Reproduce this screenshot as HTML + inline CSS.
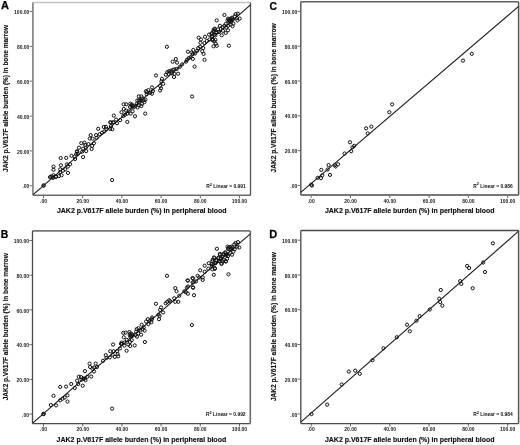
<!DOCTYPE html><html><head><meta charset="utf-8"><style>html,body{margin:0;padding:0;background:#fff;}svg{display:block;}text{font-family:"Liberation Sans",Arial,sans-serif;}</style></head><body>
<svg width="520" height="445" viewBox="0 0 520 445">
<rect width="520" height="445" fill="#fff"/>
<g><line x1="29.7" y1="185.8" x2="32.9" y2="185.8" stroke="#444" stroke-width="0.8"/><text x="29.4" y="188.4" font-size="5" font-weight="bold" text-anchor="end" fill="#222">.00</text><line x1="43.5" y1="195.3" x2="43.5" y2="198.3" stroke="#444" stroke-width="0.8"/><text x="43.5" y="203.1" font-size="5" font-weight="bold" text-anchor="middle" fill="#222">.00</text><line x1="29.7" y1="150.9" x2="32.9" y2="150.9" stroke="#444" stroke-width="0.8"/><text x="29.4" y="153.5" font-size="5" font-weight="bold" text-anchor="end" fill="#222">20.00</text><line x1="82.7" y1="195.3" x2="82.7" y2="198.3" stroke="#444" stroke-width="0.8"/><text x="82.7" y="203.1" font-size="5" font-weight="bold" text-anchor="middle" fill="#222">20.00</text><line x1="29.7" y1="116.1" x2="32.9" y2="116.1" stroke="#444" stroke-width="0.8"/><text x="29.4" y="118.7" font-size="5" font-weight="bold" text-anchor="end" fill="#222">40.00</text><line x1="121.9" y1="195.3" x2="121.9" y2="198.3" stroke="#444" stroke-width="0.8"/><text x="121.9" y="203.1" font-size="5" font-weight="bold" text-anchor="middle" fill="#222">40.00</text><line x1="29.7" y1="81.2" x2="32.9" y2="81.2" stroke="#444" stroke-width="0.8"/><text x="29.4" y="83.8" font-size="5" font-weight="bold" text-anchor="end" fill="#222">60.00</text><line x1="161.1" y1="195.3" x2="161.1" y2="198.3" stroke="#444" stroke-width="0.8"/><text x="161.1" y="203.1" font-size="5" font-weight="bold" text-anchor="middle" fill="#222">60.00</text><line x1="29.7" y1="46.4" x2="32.9" y2="46.4" stroke="#444" stroke-width="0.8"/><text x="29.4" y="49.0" font-size="5" font-weight="bold" text-anchor="end" fill="#222">80.00</text><line x1="200.3" y1="195.3" x2="200.3" y2="198.3" stroke="#444" stroke-width="0.8"/><text x="200.3" y="203.1" font-size="5" font-weight="bold" text-anchor="middle" fill="#222">80.00</text><line x1="29.7" y1="11.5" x2="32.9" y2="11.5" stroke="#444" stroke-width="0.8"/><text x="29.4" y="14.1" font-size="5" font-weight="bold" text-anchor="end" fill="#222">100.00</text><line x1="239.5" y1="195.3" x2="239.5" y2="198.3" stroke="#444" stroke-width="0.8"/><text x="239.5" y="203.1" font-size="5" font-weight="bold" text-anchor="middle" fill="#222">100.00</text><line x1="32.9" y1="2.5" x2="250.5" y2="2.5" stroke="#c4c4c4" stroke-width="1.4"/><line x1="32.9" y1="195.3" x2="250.5" y2="195.3" stroke="#6a6a6a" stroke-width="1.6"/><line x1="32.9" y1="2.5" x2="32.9" y2="195.3" stroke="#8a8a8a" stroke-width="1.8"/><line x1="250.5" y1="2.5" x2="250.5" y2="195.3" stroke="#555" stroke-width="1.3"/><line x1="33.2" y1="194.6" x2="250.5" y2="4.9" stroke="#1a1a1a" stroke-width="1.1"/><g fill="none" stroke="#111" stroke-width="1.0"><circle cx="60.7" cy="158.1" r="1.6"/><circle cx="66.2" cy="157.9" r="1.6"/><circle cx="71.5" cy="155.8" r="1.6"/><circle cx="74.6" cy="156.7" r="1.6"/><circle cx="75.1" cy="159.0" r="1.6"/><circle cx="76.9" cy="151.8" r="1.6"/><circle cx="77.8" cy="153.6" r="1.6"/><circle cx="53.5" cy="166.6" r="1.6"/><circle cx="53.5" cy="169.8" r="1.6"/><circle cx="60.9" cy="165.3" r="1.6"/><circle cx="60.2" cy="169.3" r="1.6"/><circle cx="67.0" cy="164.4" r="1.6"/><circle cx="70.1" cy="164.2" r="1.6"/><circle cx="67.9" cy="166.6" r="1.6"/><circle cx="65.2" cy="169.3" r="1.6"/><circle cx="62.9" cy="170.7" r="1.6"/><circle cx="68.0" cy="172.9" r="1.6"/><circle cx="61.6" cy="175.3" r="1.6"/><circle cx="58.9" cy="176.1" r="1.6"/><circle cx="56.2" cy="176.5" r="1.6"/><circle cx="53.5" cy="175.2" r="1.6"/><circle cx="50.8" cy="176.5" r="1.6"/><circle cx="53.0" cy="177.9" r="1.6"/><circle cx="60.2" cy="172.0" r="1.6"/><circle cx="50.0" cy="177.2" r="1.6"/><circle cx="52.6" cy="176.9" r="1.6"/><circle cx="55.8" cy="176.9" r="1.6"/><circle cx="83.1" cy="157.1" r="1.6"/><circle cx="77.2" cy="151.3" r="1.6"/><circle cx="76.3" cy="154.0" r="1.6"/><circle cx="79.0" cy="147.7" r="1.6"/><circle cx="81.3" cy="143.2" r="1.6"/><circle cx="84.4" cy="142.7" r="1.6"/><circle cx="83.1" cy="148.6" r="1.6"/><circle cx="85.8" cy="147.7" r="1.6"/><circle cx="85.3" cy="145.0" r="1.6"/><circle cx="82.2" cy="151.7" r="1.6"/><circle cx="86.2" cy="151.1" r="1.6"/><circle cx="88.5" cy="144.1" r="1.6"/><circle cx="90.7" cy="135.1" r="1.6"/><circle cx="89.8" cy="138.5" r="1.6"/><circle cx="92.5" cy="138.7" r="1.6"/><circle cx="92.1" cy="145.9" r="1.6"/><circle cx="91.6" cy="149.0" r="1.6"/><circle cx="93.9" cy="143.2" r="1.6"/><circle cx="96.1" cy="135.1" r="1.6"/><circle cx="96.6" cy="137.8" r="1.6"/><circle cx="99.7" cy="134.2" r="1.6"/><circle cx="102.0" cy="132.8" r="1.6"/><circle cx="104.2" cy="131.5" r="1.6"/><circle cx="98.2" cy="128.8" r="1.6"/><circle cx="103.8" cy="127.0" r="1.6"/><circle cx="106.0" cy="126.8" r="1.6"/><circle cx="106.5" cy="129.2" r="1.6"/><circle cx="110.1" cy="128.8" r="1.6"/><circle cx="112.3" cy="129.2" r="1.6"/><circle cx="111.0" cy="122.5" r="1.6"/><circle cx="113.2" cy="122.5" r="1.6"/><circle cx="111.0" cy="126.1" r="1.6"/><circle cx="113.8" cy="115.6" r="1.6"/><circle cx="110.2" cy="122.3" r="1.6"/><circle cx="113.4" cy="122.3" r="1.6"/><circle cx="117.0" cy="123.2" r="1.6"/><circle cx="116.1" cy="119.6" r="1.6"/><circle cx="120.1" cy="120.1" r="1.6"/><circle cx="127.3" cy="121.9" r="1.6"/><circle cx="145.8" cy="91.3" r="1.6"/><circle cx="175.8" cy="59.0" r="1.6"/><circle cx="172.7" cy="61.7" r="1.6"/><circle cx="177.0" cy="62.6" r="1.6"/><circle cx="179.9" cy="66.7" r="1.6"/><circle cx="182.1" cy="64.4" r="1.6"/><circle cx="156.0" cy="75.5" r="1.6"/><circle cx="167.3" cy="72.1" r="1.6"/><circle cx="169.1" cy="71.2" r="1.6"/><circle cx="170.9" cy="70.7" r="1.6"/><circle cx="173.1" cy="69.8" r="1.6"/><circle cx="174.5" cy="69.4" r="1.6"/><circle cx="176.7" cy="68.9" r="1.6"/><circle cx="165.9" cy="74.8" r="1.6"/><circle cx="168.6" cy="73.9" r="1.6"/><circle cx="171.8" cy="73.4" r="1.6"/><circle cx="174.5" cy="73.9" r="1.6"/><circle cx="178.1" cy="73.7" r="1.6"/><circle cx="174.0" cy="77.0" r="1.6"/><circle cx="161.9" cy="78.8" r="1.6"/><circle cx="161.4" cy="81.5" r="1.6"/><circle cx="163.2" cy="83.8" r="1.6"/><circle cx="160.1" cy="86.0" r="1.6"/><circle cx="161.0" cy="88.3" r="1.6"/><circle cx="160.1" cy="90.5" r="1.6"/><circle cx="152.0" cy="87.4" r="1.6"/><circle cx="148.4" cy="90.1" r="1.6"/><circle cx="147.0" cy="91.9" r="1.6"/><circle cx="150.2" cy="92.8" r="1.6"/><circle cx="152.9" cy="91.0" r="1.6"/><circle cx="152.0" cy="93.7" r="1.6"/><circle cx="204.5" cy="59.8" r="1.6"/><circle cx="187.9" cy="51.7" r="1.6"/><circle cx="191.5" cy="52.6" r="1.6"/><circle cx="193.3" cy="49.9" r="1.6"/><circle cx="192.8" cy="53.9" r="1.6"/><circle cx="195.1" cy="53.5" r="1.6"/><circle cx="190.6" cy="57.1" r="1.6"/><circle cx="188.8" cy="58.0" r="1.6"/><circle cx="187.0" cy="59.8" r="1.6"/><circle cx="192.8" cy="58.9" r="1.6"/><circle cx="186.1" cy="61.6" r="1.6"/><circle cx="198.2" cy="48.1" r="1.6"/><circle cx="200.0" cy="46.7" r="1.6"/><circle cx="197.3" cy="50.8" r="1.6"/><circle cx="203.2" cy="48.1" r="1.6"/><circle cx="202.3" cy="51.2" r="1.6"/><circle cx="203.6" cy="53.9" r="1.6"/><circle cx="200.5" cy="42.7" r="1.6"/><circle cx="198.7" cy="37.7" r="1.6"/><circle cx="200.9" cy="39.5" r="1.6"/><circle cx="205.0" cy="36.8" r="1.6"/><circle cx="204.5" cy="43.1" r="1.6"/><circle cx="206.8" cy="40.9" r="1.6"/><circle cx="209.0" cy="34.6" r="1.6"/><circle cx="209.5" cy="39.5" r="1.6"/><circle cx="212.2" cy="36.4" r="1.6"/><circle cx="212.6" cy="40.0" r="1.6"/><circle cx="214.0" cy="41.3" r="1.6"/><circle cx="213.5" cy="46.3" r="1.6"/><circle cx="215.8" cy="43.6" r="1.6"/><circle cx="216.7" cy="45.8" r="1.6"/><circle cx="213.5" cy="30.5" r="1.6"/><circle cx="214.9" cy="28.7" r="1.6"/><circle cx="211.7" cy="33.2" r="1.6"/><circle cx="215.8" cy="32.8" r="1.6"/><circle cx="224.4" cy="15.0" r="1.6"/><circle cx="216.7" cy="20.4" r="1.6"/><circle cx="228.0" cy="18.6" r="1.6"/><circle cx="229.3" cy="19.5" r="1.6"/><circle cx="230.7" cy="18.6" r="1.6"/><circle cx="232.0" cy="17.7" r="1.6"/><circle cx="230.2" cy="20.9" r="1.6"/><circle cx="228.9" cy="21.3" r="1.6"/><circle cx="231.6" cy="20.4" r="1.6"/><circle cx="232.9" cy="19.5" r="1.6"/><circle cx="227.5" cy="20.4" r="1.6"/><circle cx="230.7" cy="22.2" r="1.6"/><circle cx="234.7" cy="16.4" r="1.6"/><circle cx="235.6" cy="14.1" r="1.6"/><circle cx="237.9" cy="13.7" r="1.6"/><circle cx="237.0" cy="18.2" r="1.6"/><circle cx="239.7" cy="18.6" r="1.6"/><circle cx="237.4" cy="20.4" r="1.6"/><circle cx="233.4" cy="23.6" r="1.6"/><circle cx="232.5" cy="26.3" r="1.6"/><circle cx="230.7" cy="24.5" r="1.6"/><circle cx="228.0" cy="25.8" r="1.6"/><circle cx="225.7" cy="24.0" r="1.6"/><circle cx="224.4" cy="25.8" r="1.6"/><circle cx="219.9" cy="25.8" r="1.6"/><circle cx="222.6" cy="27.2" r="1.6"/><circle cx="226.2" cy="27.6" r="1.6"/><circle cx="228.0" cy="30.3" r="1.6"/><circle cx="225.7" cy="33.0" r="1.6"/><circle cx="221.7" cy="35.3" r="1.6"/><circle cx="223.0" cy="30.8" r="1.6"/><circle cx="220.8" cy="29.0" r="1.6"/><circle cx="218.1" cy="29.4" r="1.6"/><circle cx="214.0" cy="29.4" r="1.6"/><circle cx="213.6" cy="31.7" r="1.6"/><circle cx="216.3" cy="32.1" r="1.6"/><circle cx="219.0" cy="32.1" r="1.6"/><circle cx="211.8" cy="34.4" r="1.6"/><circle cx="215.4" cy="35.3" r="1.6"/><circle cx="211.8" cy="36.6" r="1.6"/><circle cx="215.4" cy="39.8" r="1.6"/><circle cx="212.7" cy="39.8" r="1.6"/><circle cx="166.9" cy="46.8" r="1.6"/><circle cx="228.9" cy="45.7" r="1.6"/><circle cx="192.1" cy="96.5" r="1.6"/><circle cx="112.1" cy="180.1" r="1.6"/><circle cx="194.6" cy="66.6" r="1.6"/><circle cx="123.6" cy="104.3" r="1.6"/><circle cx="126.2" cy="104.3" r="1.6"/><circle cx="130.3" cy="103.7" r="1.6"/><circle cx="131.2" cy="105.5" r="1.6"/><circle cx="130.0" cy="106.9" r="1.6"/><circle cx="132.6" cy="106.0" r="1.6"/><circle cx="133.8" cy="107.2" r="1.6"/><circle cx="132.0" cy="104.6" r="1.6"/><circle cx="135.5" cy="106.0" r="1.6"/><circle cx="137.6" cy="107.5" r="1.6"/><circle cx="136.7" cy="103.7" r="1.6"/><circle cx="138.8" cy="105.2" r="1.6"/><circle cx="139.3" cy="102.5" r="1.6"/><circle cx="141.4" cy="106.0" r="1.6"/><circle cx="142.0" cy="103.7" r="1.6"/><circle cx="137.3" cy="100.5" r="1.6"/><circle cx="139.1" cy="100.2" r="1.6"/><circle cx="138.8" cy="96.4" r="1.6"/><circle cx="141.4" cy="96.4" r="1.6"/><circle cx="140.8" cy="100.2" r="1.6"/><circle cx="143.7" cy="100.2" r="1.6"/><circle cx="144.3" cy="102.2" r="1.6"/><circle cx="142.6" cy="98.4" r="1.6"/><circle cx="145.5" cy="99.6" r="1.6"/><circle cx="146.7" cy="94.3" r="1.6"/><circle cx="123.8" cy="109.0" r="1.6"/><circle cx="121.5" cy="112.2" r="1.6"/><circle cx="126.2" cy="110.7" r="1.6"/><circle cx="128.5" cy="111.3" r="1.6"/><circle cx="132.6" cy="111.3" r="1.6"/><circle cx="130.6" cy="113.6" r="1.6"/><circle cx="127.4" cy="113.6" r="1.6"/><circle cx="125.0" cy="114.8" r="1.6"/><circle cx="123.3" cy="116.0" r="1.6"/><circle cx="135.0" cy="116.3" r="1.6"/><circle cx="145.2" cy="113.6" r="1.6"/><circle cx="43.5" cy="185.6" r="1.6"/><circle cx="43.7" cy="185.4" r="1.6"/></g><text x="206.2" y="187.9" font-size="4.9" font-weight="bold" fill="#111" textLength="39.6" lengthAdjust="spacingAndGlyphs">R<tspan font-size="3.8" dy="-2.2">2</tspan><tspan dy="2.2"> Linear = 0.991</tspan></text><text x="141.7" y="213.3" font-size="7" font-weight="bold" text-anchor="middle" fill="#111" stroke="#111" stroke-width="0.15">JAK2 p.V617F allele burden (%) in peripheral blood</text><text x="0" y="0" transform="translate(8.3,98.4) rotate(-90)" font-size="6.7" font-weight="bold" text-anchor="middle" fill="#111" stroke="#111" stroke-width="0.15" textLength="147" lengthAdjust="spacingAndGlyphs">JAK2 p.V617F allele burden (%) in bone marrow</text><text x="0" y="0" transform="translate(1,9.3) scale(1.0,1)" font-size="11" font-weight="bold" fill="#000" stroke="#000" stroke-width="0.25">A</text></g>
<g><line x1="297.6" y1="185.4" x2="300.8" y2="185.4" stroke="#444" stroke-width="0.8"/><text x="297.3" y="188.0" font-size="5" font-weight="bold" text-anchor="end" fill="#222">.00</text><line x1="311.2" y1="195.0" x2="311.2" y2="198.0" stroke="#444" stroke-width="0.8"/><text x="311.2" y="202.8" font-size="5" font-weight="bold" text-anchor="middle" fill="#222">.00</text><line x1="297.6" y1="150.6" x2="300.8" y2="150.6" stroke="#444" stroke-width="0.8"/><text x="297.3" y="153.2" font-size="5" font-weight="bold" text-anchor="end" fill="#222">20.00</text><line x1="350.5" y1="195.0" x2="350.5" y2="198.0" stroke="#444" stroke-width="0.8"/><text x="350.5" y="202.8" font-size="5" font-weight="bold" text-anchor="middle" fill="#222">20.00</text><line x1="297.6" y1="115.8" x2="300.8" y2="115.8" stroke="#444" stroke-width="0.8"/><text x="297.3" y="118.4" font-size="5" font-weight="bold" text-anchor="end" fill="#222">40.00</text><line x1="389.8" y1="195.0" x2="389.8" y2="198.0" stroke="#444" stroke-width="0.8"/><text x="389.8" y="202.8" font-size="5" font-weight="bold" text-anchor="middle" fill="#222">40.00</text><line x1="297.6" y1="81.0" x2="300.8" y2="81.0" stroke="#444" stroke-width="0.8"/><text x="297.3" y="83.6" font-size="5" font-weight="bold" text-anchor="end" fill="#222">60.00</text><line x1="429.1" y1="195.0" x2="429.1" y2="198.0" stroke="#444" stroke-width="0.8"/><text x="429.1" y="202.8" font-size="5" font-weight="bold" text-anchor="middle" fill="#222">60.00</text><line x1="297.6" y1="46.2" x2="300.8" y2="46.2" stroke="#444" stroke-width="0.8"/><text x="297.3" y="48.8" font-size="5" font-weight="bold" text-anchor="end" fill="#222">80.00</text><line x1="468.4" y1="195.0" x2="468.4" y2="198.0" stroke="#444" stroke-width="0.8"/><text x="468.4" y="202.8" font-size="5" font-weight="bold" text-anchor="middle" fill="#222">80.00</text><line x1="297.6" y1="11.4" x2="300.8" y2="11.4" stroke="#444" stroke-width="0.8"/><text x="297.3" y="14.0" font-size="5" font-weight="bold" text-anchor="end" fill="#222">100.00</text><line x1="507.7" y1="195.0" x2="507.7" y2="198.0" stroke="#444" stroke-width="0.8"/><text x="507.7" y="202.8" font-size="5" font-weight="bold" text-anchor="middle" fill="#222">100.00</text><line x1="300.8" y1="1.8" x2="518.6" y2="1.8" stroke="#5e5e5e" stroke-width="1.5"/><line x1="300.8" y1="195.0" x2="518.6" y2="195.0" stroke="#777" stroke-width="1.8"/><line x1="300.8" y1="1.8" x2="300.8" y2="195.0" stroke="#5e5e5e" stroke-width="1.5"/><line x1="518.6" y1="1.8" x2="518.6" y2="195.0" stroke="#555" stroke-width="1.5"/><line x1="300.8" y1="192.4" x2="518.6" y2="6.4" stroke="#1a1a1a" stroke-width="1.1"/><g fill="none" stroke="#111" stroke-width="1.0"><circle cx="311.2" cy="184.7" r="1.6"/><circle cx="312.0" cy="185.5" r="1.6"/><circle cx="317.6" cy="177.8" r="1.6"/><circle cx="321.0" cy="178.2" r="1.6"/><circle cx="322.3" cy="175.3" r="1.6"/><circle cx="321.3" cy="169.9" r="1.6"/><circle cx="327.6" cy="169.5" r="1.6"/><circle cx="328.6" cy="165.1" r="1.6"/><circle cx="330.0" cy="174.9" r="1.6"/><circle cx="334.7" cy="165.2" r="1.6"/><circle cx="335.6" cy="166.5" r="1.6"/><circle cx="338.1" cy="164.3" r="1.6"/><circle cx="344.6" cy="153.5" r="1.6"/><circle cx="350.0" cy="142.3" r="1.6"/><circle cx="351.2" cy="151.2" r="1.6"/><circle cx="352.5" cy="147.3" r="1.6"/><circle cx="354.2" cy="145.8" r="1.6"/><circle cx="366.1" cy="128.3" r="1.6"/><circle cx="371.4" cy="126.6" r="1.6"/><circle cx="367.7" cy="133.4" r="1.6"/><circle cx="389.3" cy="112.2" r="1.6"/><circle cx="392.1" cy="104.4" r="1.6"/><circle cx="463.0" cy="60.6" r="1.6"/><circle cx="471.8" cy="53.8" r="1.6"/></g><text x="473.2" y="187.5" font-size="4.9" font-weight="bold" fill="#111" textLength="39.6" lengthAdjust="spacingAndGlyphs">R<tspan font-size="3.8" dy="-2.2">2</tspan><tspan dy="2.2"> Linear = 0.986</tspan></text><text x="409.7" y="213.0" font-size="7" font-weight="bold" text-anchor="middle" fill="#111" stroke="#111" stroke-width="0.15">JAK2 p.V617F allele burden (%) in peripheral blood</text><text x="0" y="0" transform="translate(276.3,97.9) rotate(-90)" font-size="6.7" font-weight="bold" text-anchor="middle" fill="#111" stroke="#111" stroke-width="0.15" textLength="149" lengthAdjust="spacingAndGlyphs">JAK2 p.V617F allele burden (%) in bone marrow</text><text x="0" y="0" transform="translate(269.6,9.9) scale(0.9,1)" font-size="11.5" font-weight="bold" fill="#000" stroke="#000" stroke-width="0.25">C</text></g>
<g><line x1="29.3" y1="414.1" x2="32.5" y2="414.1" stroke="#444" stroke-width="0.8"/><text x="29.0" y="416.7" font-size="5" font-weight="bold" text-anchor="end" fill="#222">.00</text><line x1="43.5" y1="423.6" x2="43.5" y2="426.6" stroke="#444" stroke-width="0.8"/><text x="43.5" y="431.4" font-size="5" font-weight="bold" text-anchor="middle" fill="#222">.00</text><line x1="29.3" y1="379.4" x2="32.5" y2="379.4" stroke="#444" stroke-width="0.8"/><text x="29.0" y="382.0" font-size="5" font-weight="bold" text-anchor="end" fill="#222">20.00</text><line x1="82.7" y1="423.6" x2="82.7" y2="426.6" stroke="#444" stroke-width="0.8"/><text x="82.7" y="431.4" font-size="5" font-weight="bold" text-anchor="middle" fill="#222">20.00</text><line x1="29.3" y1="344.7" x2="32.5" y2="344.7" stroke="#444" stroke-width="0.8"/><text x="29.0" y="347.3" font-size="5" font-weight="bold" text-anchor="end" fill="#222">40.00</text><line x1="121.9" y1="423.6" x2="121.9" y2="426.6" stroke="#444" stroke-width="0.8"/><text x="121.9" y="431.4" font-size="5" font-weight="bold" text-anchor="middle" fill="#222">40.00</text><line x1="29.3" y1="309.9" x2="32.5" y2="309.9" stroke="#444" stroke-width="0.8"/><text x="29.0" y="312.5" font-size="5" font-weight="bold" text-anchor="end" fill="#222">60.00</text><line x1="161.1" y1="423.6" x2="161.1" y2="426.6" stroke="#444" stroke-width="0.8"/><text x="161.1" y="431.4" font-size="5" font-weight="bold" text-anchor="middle" fill="#222">60.00</text><line x1="29.3" y1="275.2" x2="32.5" y2="275.2" stroke="#444" stroke-width="0.8"/><text x="29.0" y="277.8" font-size="5" font-weight="bold" text-anchor="end" fill="#222">80.00</text><line x1="200.3" y1="423.6" x2="200.3" y2="426.6" stroke="#444" stroke-width="0.8"/><text x="200.3" y="431.4" font-size="5" font-weight="bold" text-anchor="middle" fill="#222">80.00</text><line x1="29.3" y1="240.5" x2="32.5" y2="240.5" stroke="#444" stroke-width="0.8"/><text x="29.0" y="243.1" font-size="5" font-weight="bold" text-anchor="end" fill="#222">100.00</text><line x1="239.5" y1="423.6" x2="239.5" y2="426.6" stroke="#444" stroke-width="0.8"/><text x="239.5" y="431.4" font-size="5" font-weight="bold" text-anchor="middle" fill="#222">100.00</text><line x1="32.5" y1="230.9" x2="250.3" y2="230.9" stroke="#777" stroke-width="1.7"/><line x1="32.5" y1="423.6" x2="250.3" y2="423.6" stroke="#4a4a4a" stroke-width="1.3"/><line x1="32.5" y1="230.9" x2="32.5" y2="423.6" stroke="#4a4a4a" stroke-width="1.3"/><line x1="250.3" y1="230.9" x2="250.3" y2="423.6" stroke="#6a6a6a" stroke-width="1.6"/><line x1="32.6" y1="423.2" x2="250.3" y2="233.8" stroke="#1a1a1a" stroke-width="1.1"/><g fill="none" stroke="#111" stroke-width="1.0"><circle cx="43.4" cy="413.8" r="1.6"/><circle cx="43.7" cy="414.1" r="1.6"/><circle cx="50.9" cy="405.1" r="1.6"/><circle cx="56.1" cy="405.4" r="1.6"/><circle cx="53.5" cy="395.8" r="1.6"/><circle cx="60.2" cy="386.9" r="1.6"/><circle cx="66.1" cy="386.6" r="1.6"/><circle cx="71.2" cy="384.0" r="1.6"/><circle cx="60.2" cy="400.3" r="1.6"/><circle cx="62.5" cy="398.7" r="1.6"/><circle cx="64.7" cy="397.5" r="1.6"/><circle cx="67.5" cy="395.3" r="1.6"/><circle cx="67.5" cy="401.5" r="1.6"/><circle cx="74.8" cy="388.0" r="1.6"/><circle cx="77.1" cy="380.7" r="1.6"/><circle cx="78.8" cy="376.7" r="1.6"/><circle cx="78.2" cy="384.0" r="1.6"/><circle cx="82.7" cy="385.7" r="1.6"/><circle cx="81.6" cy="379.6" r="1.6"/><circle cx="84.4" cy="378.4" r="1.6"/><circle cx="85.5" cy="380.1" r="1.6"/><circle cx="87.2" cy="376.7" r="1.6"/><circle cx="84.9" cy="371.1" r="1.6"/><circle cx="81.1" cy="377.1" r="1.6"/><circle cx="83.4" cy="378.8" r="1.6"/><circle cx="91.2" cy="376.5" r="1.6"/><circle cx="89.6" cy="363.6" r="1.6"/><circle cx="90.1" cy="367.0" r="1.6"/><circle cx="92.4" cy="368.7" r="1.6"/><circle cx="94.0" cy="367.5" r="1.6"/><circle cx="95.7" cy="363.6" r="1.6"/><circle cx="96.9" cy="367.0" r="1.6"/><circle cx="94.0" cy="371.5" r="1.6"/><circle cx="103.0" cy="360.8" r="1.6"/><circle cx="105.8" cy="355.2" r="1.6"/><circle cx="106.4" cy="358.0" r="1.6"/><circle cx="109.8" cy="357.4" r="1.6"/><circle cx="110.3" cy="351.2" r="1.6"/><circle cx="112.6" cy="354.6" r="1.6"/><circle cx="113.7" cy="351.2" r="1.6"/><circle cx="114.8" cy="356.9" r="1.6"/><circle cx="117.6" cy="354.0" r="1.6"/><circle cx="118.2" cy="356.3" r="1.6"/><circle cx="117.1" cy="351.2" r="1.6"/><circle cx="113.1" cy="344.5" r="1.6"/><circle cx="119.9" cy="348.4" r="1.6"/><circle cx="121.6" cy="343.9" r="1.6"/><circle cx="124.4" cy="345.6" r="1.6"/><circle cx="126.6" cy="350.7" r="1.6"/><circle cx="128.3" cy="344.5" r="1.6"/><circle cx="134.7" cy="345.4" r="1.6"/><circle cx="130.2" cy="346.0" r="1.6"/><circle cx="121.1" cy="343.9" r="1.6"/><circle cx="148.4" cy="324.2" r="1.6"/><circle cx="147.9" cy="319.2" r="1.6"/><circle cx="149.4" cy="321.2" r="1.6"/><circle cx="151.9" cy="319.2" r="1.6"/><circle cx="151.4" cy="322.2" r="1.6"/><circle cx="158.5" cy="314.6" r="1.6"/><circle cx="159.0" cy="319.2" r="1.6"/><circle cx="167.0" cy="275.8" r="1.6"/><circle cx="155.9" cy="303.8" r="1.6"/><circle cx="152.0" cy="317.5" r="1.6"/><circle cx="159.6" cy="316.0" r="1.6"/><circle cx="160.1" cy="309.9" r="1.6"/><circle cx="161.1" cy="307.4" r="1.6"/><circle cx="163.1" cy="312.4" r="1.6"/><circle cx="165.7" cy="303.3" r="1.6"/><circle cx="167.2" cy="301.8" r="1.6"/><circle cx="169.2" cy="300.3" r="1.6"/><circle cx="170.2" cy="301.3" r="1.6"/><circle cx="174.3" cy="298.3" r="1.6"/><circle cx="175.3" cy="301.8" r="1.6"/><circle cx="178.3" cy="301.8" r="1.6"/><circle cx="179.3" cy="295.7" r="1.6"/><circle cx="175.3" cy="288.1" r="1.6"/><circle cx="176.5" cy="291.2" r="1.6"/><circle cx="184.4" cy="291.2" r="1.6"/><circle cx="185.9" cy="292.2" r="1.6"/><circle cx="187.9" cy="293.7" r="1.6"/><circle cx="186.9" cy="287.6" r="1.6"/><circle cx="187.9" cy="280.6" r="1.6"/><circle cx="192.5" cy="278.0" r="1.6"/><circle cx="193.5" cy="282.1" r="1.6"/><circle cx="193.0" cy="287.6" r="1.6"/><circle cx="194.0" cy="295.2" r="1.6"/><circle cx="216.9" cy="248.8" r="1.6"/><circle cx="187.5" cy="280.4" r="1.6"/><circle cx="193.1" cy="278.4" r="1.6"/><circle cx="192.6" cy="282.4" r="1.6"/><circle cx="188.0" cy="286.5" r="1.6"/><circle cx="193.1" cy="287.5" r="1.6"/><circle cx="196.1" cy="281.4" r="1.6"/><circle cx="197.6" cy="275.8" r="1.6"/><circle cx="199.2" cy="277.4" r="1.6"/><circle cx="202.7" cy="277.4" r="1.6"/><circle cx="202.7" cy="279.9" r="1.6"/><circle cx="200.2" cy="270.3" r="1.6"/><circle cx="204.7" cy="271.8" r="1.6"/><circle cx="204.7" cy="265.7" r="1.6"/><circle cx="208.3" cy="268.8" r="1.6"/><circle cx="208.8" cy="263.2" r="1.6"/><circle cx="211.8" cy="264.2" r="1.6"/><circle cx="212.3" cy="269.3" r="1.6"/><circle cx="214.8" cy="268.8" r="1.6"/><circle cx="212.3" cy="261.2" r="1.6"/><circle cx="214.3" cy="258.1" r="1.6"/><circle cx="216.3" cy="260.2" r="1.6"/><circle cx="215.8" cy="262.7" r="1.6"/><circle cx="218.4" cy="257.6" r="1.6"/><circle cx="219.9" cy="254.6" r="1.6"/><circle cx="220.9" cy="258.1" r="1.6"/><circle cx="221.4" cy="263.7" r="1.6"/><circle cx="223.9" cy="260.2" r="1.6"/><circle cx="226.0" cy="261.2" r="1.6"/><circle cx="223.4" cy="254.6" r="1.6"/><circle cx="226.5" cy="255.6" r="1.6"/><circle cx="225.4" cy="252.6" r="1.6"/><circle cx="213.8" cy="274.8" r="1.6"/><circle cx="228.5" cy="274.3" r="1.6"/><circle cx="227.5" cy="246.6" r="1.6"/><circle cx="228.9" cy="247.5" r="1.6"/><circle cx="230.2" cy="247.1" r="1.6"/><circle cx="231.6" cy="246.6" r="1.6"/><circle cx="229.3" cy="249.3" r="1.6"/><circle cx="231.1" cy="249.3" r="1.6"/><circle cx="232.5" cy="248.4" r="1.6"/><circle cx="228.0" cy="248.9" r="1.6"/><circle cx="234.3" cy="244.4" r="1.6"/><circle cx="235.6" cy="243.0" r="1.6"/><circle cx="237.9" cy="242.1" r="1.6"/><circle cx="237.0" cy="246.6" r="1.6"/><circle cx="239.2" cy="247.5" r="1.6"/><circle cx="234.7" cy="249.3" r="1.6"/><circle cx="233.4" cy="251.6" r="1.6"/><circle cx="232.0" cy="254.7" r="1.6"/><circle cx="230.2" cy="252.9" r="1.6"/><circle cx="228.0" cy="256.1" r="1.6"/><circle cx="226.6" cy="254.3" r="1.6"/><circle cx="225.3" cy="252.5" r="1.6"/><circle cx="223.5" cy="253.8" r="1.6"/><circle cx="219.9" cy="253.8" r="1.6"/><circle cx="222.6" cy="256.5" r="1.6"/><circle cx="227.1" cy="258.8" r="1.6"/><circle cx="225.7" cy="261.5" r="1.6"/><circle cx="222.6" cy="261.5" r="1.6"/><circle cx="220.8" cy="258.8" r="1.6"/><circle cx="218.1" cy="258.3" r="1.6"/><circle cx="214.0" cy="257.4" r="1.6"/><circle cx="212.7" cy="259.7" r="1.6"/><circle cx="216.3" cy="260.6" r="1.6"/><circle cx="219.0" cy="261.0" r="1.6"/><circle cx="221.7" cy="263.7" r="1.6"/><circle cx="211.8" cy="264.2" r="1.6"/><circle cx="215.4" cy="263.3" r="1.6"/><circle cx="211.8" cy="266.0" r="1.6"/><circle cx="214.9" cy="268.2" r="1.6"/><circle cx="112.1" cy="408.6" r="1.6"/><circle cx="191.9" cy="325.0" r="1.6"/><circle cx="123.3" cy="332.9" r="1.6"/><circle cx="125.6" cy="332.6" r="1.6"/><circle cx="129.4" cy="332.0" r="1.6"/><circle cx="130.6" cy="333.5" r="1.6"/><circle cx="129.7" cy="335.0" r="1.6"/><circle cx="132.0" cy="334.4" r="1.6"/><circle cx="132.9" cy="335.5" r="1.6"/><circle cx="131.5" cy="336.1" r="1.6"/><circle cx="130.3" cy="336.7" r="1.6"/><circle cx="123.8" cy="337.3" r="1.6"/><circle cx="126.8" cy="339.9" r="1.6"/><circle cx="131.7" cy="340.2" r="1.6"/><circle cx="130.0" cy="342.0" r="1.6"/><circle cx="124.4" cy="342.6" r="1.6"/><circle cx="121.5" cy="342.6" r="1.6"/><circle cx="136.7" cy="329.1" r="1.6"/><circle cx="138.5" cy="328.2" r="1.6"/><circle cx="136.1" cy="331.7" r="1.6"/><circle cx="138.2" cy="333.5" r="1.6"/><circle cx="137.0" cy="336.7" r="1.6"/><circle cx="135.5" cy="335.0" r="1.6"/><circle cx="141.1" cy="334.7" r="1.6"/><circle cx="140.2" cy="330.3" r="1.6"/><circle cx="141.7" cy="324.7" r="1.6"/><circle cx="143.7" cy="327.4" r="1.6"/><circle cx="144.6" cy="330.6" r="1.6"/><circle cx="142.6" cy="329.1" r="1.6"/><circle cx="144.9" cy="342.0" r="1.6"/><circle cx="146.1" cy="321.5" r="1.6"/></g><text x="206.0" y="416.2" font-size="4.9" font-weight="bold" fill="#111" textLength="39.6" lengthAdjust="spacingAndGlyphs">R<tspan font-size="3.8" dy="-2.2">2</tspan><tspan dy="2.2"> Linear = 0.992</tspan></text><text x="141.4" y="441.6" font-size="7" font-weight="bold" text-anchor="middle" fill="#111" stroke="#111" stroke-width="0.15">JAK2 p.V617F allele burden (%) in peripheral blood</text><text x="0" y="0" transform="translate(8.3,326.8) rotate(-90)" font-size="6.7" font-weight="bold" text-anchor="middle" fill="#111" stroke="#111" stroke-width="0.15" textLength="147" lengthAdjust="spacingAndGlyphs">JAK2 p.V617F allele burden (%) in bone marrow</text><text x="0" y="0" transform="translate(0.7,237.6) scale(0.9,1)" font-size="11.6" font-weight="bold" fill="#000" stroke="#000" stroke-width="0.25">B</text></g>
<g><line x1="297.6" y1="414.0" x2="300.8" y2="414.0" stroke="#444" stroke-width="0.8"/><text x="297.3" y="416.6" font-size="5" font-weight="bold" text-anchor="end" fill="#222">.00</text><line x1="311.2" y1="423.6" x2="311.2" y2="426.6" stroke="#444" stroke-width="0.8"/><text x="311.2" y="431.4" font-size="5" font-weight="bold" text-anchor="middle" fill="#222">.00</text><line x1="297.6" y1="379.2" x2="300.8" y2="379.2" stroke="#444" stroke-width="0.8"/><text x="297.3" y="381.8" font-size="5" font-weight="bold" text-anchor="end" fill="#222">20.00</text><line x1="350.5" y1="423.6" x2="350.5" y2="426.6" stroke="#444" stroke-width="0.8"/><text x="350.5" y="431.4" font-size="5" font-weight="bold" text-anchor="middle" fill="#222">20.00</text><line x1="297.6" y1="344.5" x2="300.8" y2="344.5" stroke="#444" stroke-width="0.8"/><text x="297.3" y="347.1" font-size="5" font-weight="bold" text-anchor="end" fill="#222">40.00</text><line x1="389.8" y1="423.6" x2="389.8" y2="426.6" stroke="#444" stroke-width="0.8"/><text x="389.8" y="431.4" font-size="5" font-weight="bold" text-anchor="middle" fill="#222">40.00</text><line x1="297.6" y1="309.7" x2="300.8" y2="309.7" stroke="#444" stroke-width="0.8"/><text x="297.3" y="312.3" font-size="5" font-weight="bold" text-anchor="end" fill="#222">60.00</text><line x1="429.1" y1="423.6" x2="429.1" y2="426.6" stroke="#444" stroke-width="0.8"/><text x="429.1" y="431.4" font-size="5" font-weight="bold" text-anchor="middle" fill="#222">60.00</text><line x1="297.6" y1="275.0" x2="300.8" y2="275.0" stroke="#444" stroke-width="0.8"/><text x="297.3" y="277.6" font-size="5" font-weight="bold" text-anchor="end" fill="#222">80.00</text><line x1="468.4" y1="423.6" x2="468.4" y2="426.6" stroke="#444" stroke-width="0.8"/><text x="468.4" y="431.4" font-size="5" font-weight="bold" text-anchor="middle" fill="#222">80.00</text><line x1="297.6" y1="240.2" x2="300.8" y2="240.2" stroke="#444" stroke-width="0.8"/><text x="297.3" y="242.8" font-size="5" font-weight="bold" text-anchor="end" fill="#222">100.00</text><line x1="507.7" y1="423.6" x2="507.7" y2="426.6" stroke="#444" stroke-width="0.8"/><text x="507.7" y="431.4" font-size="5" font-weight="bold" text-anchor="middle" fill="#222">100.00</text><line x1="300.8" y1="230.5" x2="518.6" y2="230.5" stroke="#4a4a4a" stroke-width="1.3"/><line x1="300.8" y1="423.6" x2="518.6" y2="423.6" stroke="#4a4a4a" stroke-width="1.4"/><line x1="300.8" y1="230.5" x2="300.8" y2="423.6" stroke="#5e5e5e" stroke-width="1.5"/><line x1="518.6" y1="230.5" x2="518.6" y2="423.6" stroke="#555" stroke-width="1.5"/><line x1="300.8" y1="422.2" x2="518.6" y2="231.2" stroke="#1a1a1a" stroke-width="1.1"/><g fill="none" stroke="#111" stroke-width="1.0"><circle cx="327.1" cy="404.6" r="1.6"/><circle cx="341.7" cy="384.5" r="1.6"/><circle cx="348.8" cy="371.6" r="1.6"/><circle cx="355.2" cy="370.6" r="1.6"/><circle cx="359.8" cy="373.8" r="1.6"/><circle cx="372.5" cy="360.2" r="1.6"/><circle cx="383.5" cy="348.3" r="1.6"/><circle cx="396.8" cy="337.2" r="1.6"/><circle cx="407.0" cy="324.7" r="1.6"/><circle cx="409.8" cy="331.3" r="1.6"/><circle cx="416.5" cy="320.7" r="1.6"/><circle cx="419.7" cy="316.1" r="1.6"/><circle cx="429.8" cy="309.5" r="1.6"/><circle cx="439.2" cy="298.7" r="1.6"/><circle cx="440.1" cy="302.0" r="1.6"/><circle cx="442.3" cy="305.6" r="1.6"/><circle cx="440.8" cy="290.0" r="1.6"/><circle cx="460.2" cy="281.1" r="1.6"/><circle cx="461.3" cy="283.9" r="1.6"/><circle cx="472.7" cy="288.2" r="1.6"/><circle cx="467.1" cy="265.9" r="1.6"/><circle cx="469.1" cy="268.0" r="1.6"/><circle cx="483.2" cy="262.5" r="1.6"/><circle cx="485.0" cy="272.0" r="1.6"/><circle cx="492.9" cy="243.3" r="1.6"/><circle cx="311.5" cy="414.1" r="1.6"/></g><text x="473.2" y="416.1" font-size="4.9" font-weight="bold" fill="#111" textLength="39.6" lengthAdjust="spacingAndGlyphs">R<tspan font-size="3.8" dy="-2.2">2</tspan><tspan dy="2.2"> Linear = 0.984</tspan></text><text x="409.7" y="441.6" font-size="7" font-weight="bold" text-anchor="middle" fill="#111" stroke="#111" stroke-width="0.15">JAK2 p.V617F allele burden (%) in peripheral blood</text><text x="0" y="0" transform="translate(276.3,326.6) rotate(-90)" font-size="6.7" font-weight="bold" text-anchor="middle" fill="#111" stroke="#111" stroke-width="0.15" textLength="149" lengthAdjust="spacingAndGlyphs">JAK2 p.V617F allele burden (%) in bone marrow</text><text x="0" y="0" transform="translate(269.2,237.8) scale(0.95,1)" font-size="11.6" font-weight="bold" fill="#000" stroke="#000" stroke-width="0.25">D</text></g>
</svg></body></html>
